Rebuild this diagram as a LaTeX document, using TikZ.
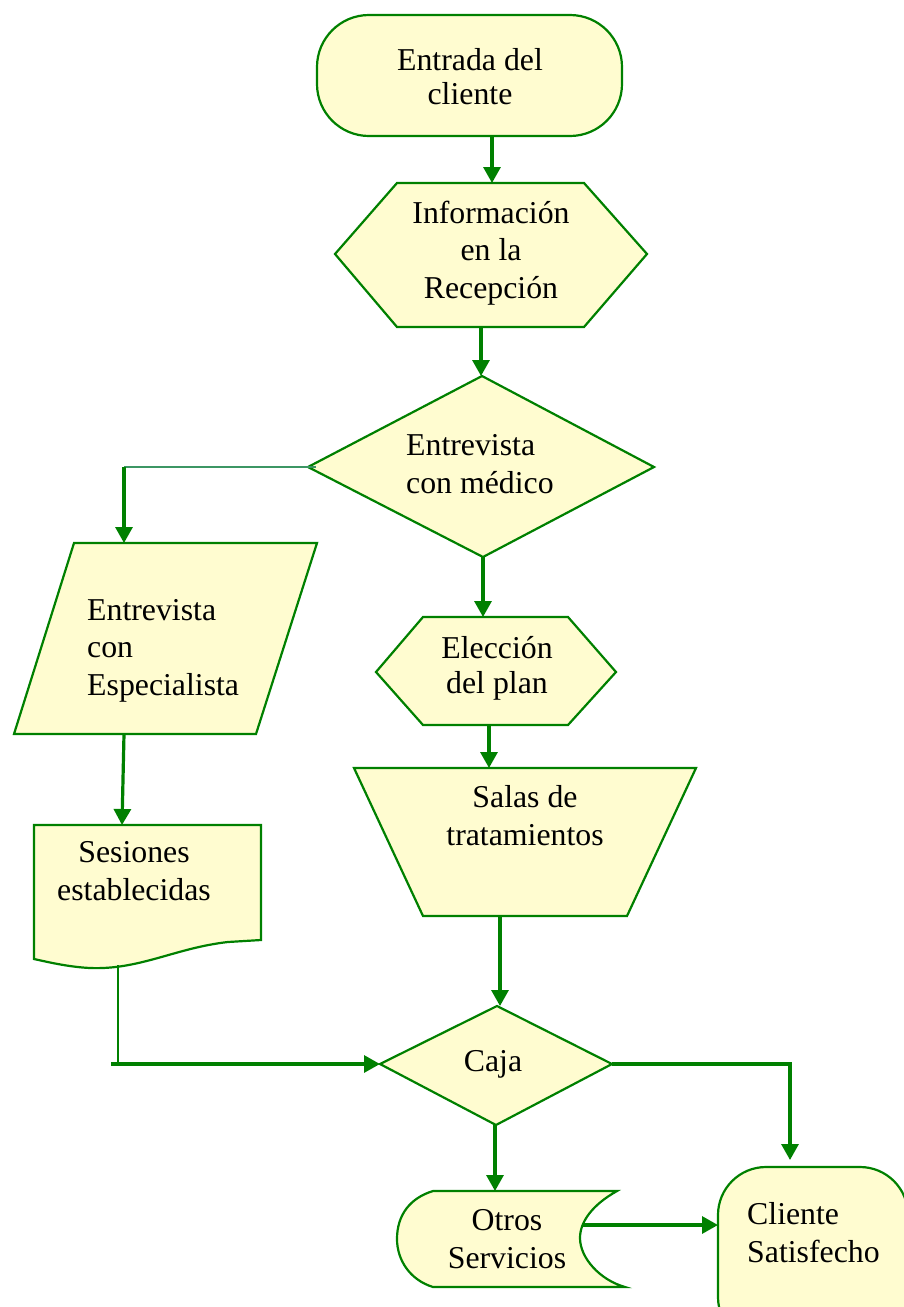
\documentclass[tikz,border=0pt]{standalone}
\usepackage{fontspec}
\setmainfont{Liberation Serif}
\usetikzlibrary{arrows.meta}
\definecolor{lineg}{RGB}{0,128,0}
\definecolor{thing}{RGB}{60,150,100}
\definecolor{ylw}{RGB}{255,252,208}
\tikzset{
  shapebox/.style={draw=lineg, line width=2.2pt, fill=ylw, line join=miter},
  lbl/.style={font=\fontsize{31.8}{37.5}\selectfont, inner sep=0pt, align=center, anchor=base},
  conn/.style={draw=lineg, line width=3.2pt, -{Triangle[width=17pt,length=16pt]}},
  plainconn/.style={draw=lineg, line width=2.6pt},
  thinconn/.style={draw=thing, line width=2.2pt}
}
\begin{document}
\begin{tikzpicture}[x=1pt,y=-1pt]
\useasboundingbox (0,0) rectangle (904,1307);
% ---- shapes ----
\draw[shapebox, rounded corners=52pt] (317,15) rectangle (622,136);
\draw[shapebox] (335,254) -- (397,183) -- (584,183) -- (647,254) -- (584,327) -- (397,327) -- cycle;
\draw[shapebox] (482,376) -- (654,467) -- (483,557) -- (308,467) -- cycle;
\draw[shapebox] (74,543) -- (317,543) -- (256,734) -- (14,734) -- cycle;
\draw[shapebox] (34,825) -- (261,825) -- (261,940) -- (228,942)
  .. controls (175,948) and (140,970) .. (90,968)
  .. controls (70,967) and (52,963) .. (34,959) -- cycle;
\draw[shapebox] (376,672) -- (423,617) -- (568,617) -- (616,672) -- (568,725) -- (423,725) -- cycle;
\draw[shapebox] (354,768) -- (696,768) -- (627,916) -- (423,916) -- cycle;
\draw[shapebox] (497,1006) -- (612,1064) -- (496,1125) -- (380,1064) -- cycle;
\draw[shapebox] (433,1191) -- (617,1191)
  .. controls (592,1205) and (580,1222) .. (580,1238)
  .. controls (580,1258) and (600,1280) .. (625,1287)
  -- (433,1287)
  .. controls (410,1280) and (397,1260) .. (397,1239)
  .. controls (397,1215) and (410,1198) .. (433,1191) -- cycle;
\begin{scope}
\clip (0,0) rectangle (904,1307);
\draw[shapebox, rounded corners=48pt] (718,1167) rectangle (908,1345);
\end{scope}
% ---- texts (anchor = baseline of last line) ----
\node[lbl, font=\fontsize{31.8}{34}\selectfont] (tEntrada) at (470,104) {Entrada del\\cliente};
\node[lbl] (tInfo) at (491,298) {Información\\en la\\Recepción};
\node[lbl, align=left, anchor=base west] (tMedico) at (406,493) {Entrevista\\con médico};
\node[lbl, align=left, anchor=base west] (tEspec) at (87,695) {Entrevista\\con\\Especialista};
\node[lbl] (tSesiones) at (134,900) {Sesiones\\establecidas};
\node[lbl, font=\fontsize{31.8}{35}\selectfont] (tEleccion) at (497,693) {Elección\\del plan};
\node[lbl] (tSalas) at (525,845) {Salas de\\tratamientos};
\node[lbl] (tCaja) at (493,1071) {Caja};
\node[lbl] (tOtros) at (507,1268) {Otros\\Servicios};
\node[lbl, align=left, anchor=base west] (tCliente) at (747,1262) {Cliente\\Satisfecho};
% ---- connection points ----
\coordinate (entB) at (492,136);
\coordinate (infT) at (492,183);
\coordinate (infB) at (481,327);
\coordinate (medT) at (481,376);
\coordinate (medL) at (316,467);
\coordinate (medB) at (483,557);
\coordinate (bendA) at (124,467);
\coordinate (espT) at (124,543);
\coordinate (espB) at (124,734);
\coordinate (sesT) at (122,825);
\coordinate (eleT) at (483,617);
\coordinate (eleB) at (489,725);
\coordinate (salT) at (489,768);
\coordinate (salB) at (500,916);
\coordinate (cajT) at (500,1006);
\coordinate (sesB) at (118,965);
\coordinate (bendB) at (118,1062);
\coordinate (bendC) at (111,1064);
\coordinate (cajL) at (380,1064);
\coordinate (cajR) at (612,1064);
\coordinate (bendD) at (790,1064);
\coordinate (cliT) at (790,1160);
\coordinate (cajB) at (495,1125);
\coordinate (otrT) at (495,1191);
\coordinate (otrR) at (582,1225);
\coordinate (cliL) at (718,1225);
% ---- connectors ----
\draw[conn] (entB) -- (infT);
\draw[conn] (infB) -- (medT);
\draw[thinconn] (medL) -- (bendA);
\draw[conn] (bendA) -- (espT);
\draw[conn] (medB) -- (eleT);
\draw[conn] (espB) -- (sesT);
\draw[conn] (eleB) -- (salT);
\draw[plainconn] (sesB) -- (bendB);
\draw[conn] (bendC) -- (cajL);
\draw[conn] (salB) -- (cajT);
\draw[conn] (cajR) -- (bendD) -- (cliT);
\draw[conn] (cajB) -- (otrT);
\draw[conn] (otrR) -- (cliL);
\end{tikzpicture}
\end{document}
